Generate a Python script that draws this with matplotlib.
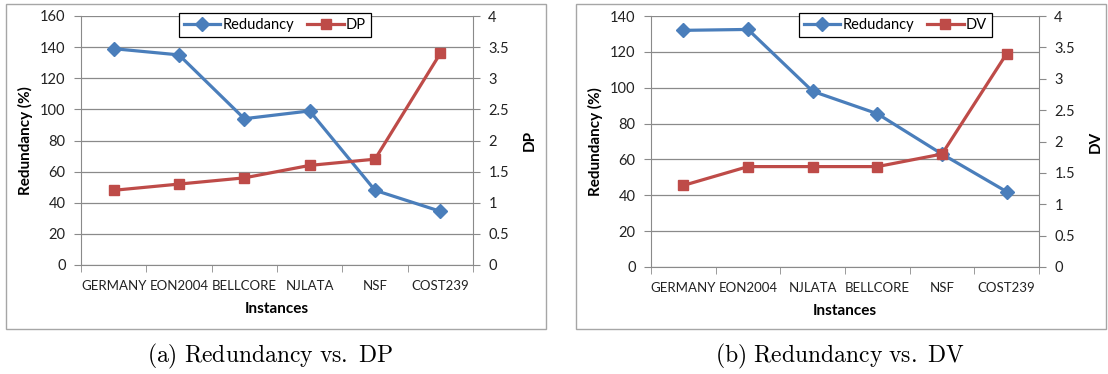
import matplotlib.pyplot as plt
from matplotlib.patches import Rectangle

# Chart data
instances_a = ["GERMANY", "EON2004", "BELLCORE", "NJLATA", "NSF", "COST239"]
redundancy_a = [139, 135, 94, 99, 48, 34.5]
dp_a = [1.2, 1.3, 1.4, 1.6, 1.7, 3.4]

instances_b = ["GERMANY", "EON2004", "NJLATA", "BELLCORE", "NSF", "COST239"]
redundancy_b = [132, 132.5, 98, 85.5, 63, 42]
dv_b = [1.3, 1.6, 1.6, 1.6, 1.8, 3.4]

BLUE = "#4A7EBB"
RED = "#BE4B48"
GRID = "#8a8a8a"
FONT = "Lato"
W, H = 1108, 374

plt.rcParams["font.family"] = [FONT, "DejaVu Sans"]
plt.rcParams["mathtext.fontset"] = "cm"


def px_rect(x0, y0, x1, y1):
    # pixel box (top-left origin) -> figure fraction rect
    return [x0 / W, 1 - y1 / H, (x1 - x0) / W, (y1 - y0) / H]


def panel(fig, rect, names, red_vals, other_vals, other_name, ymax, leg_x):
    ax = fig.add_axes(rect)
    x = list(range(len(names)))
    ax.plot(x, red_vals, color=BLUE, lw=2.3, marker="D", ms=7,
            label="Redudancy", zorder=3, clip_on=False)
    ax.set_xlim(-0.5, len(names) - 0.5)
    ax.set_ylim(0, ymax)
    ax.set_yticks(range(0, ymax + 1, 20))
    ax.yaxis.grid(True, color=GRID, lw=0.9)
    ax.set_axisbelow(True)
    ax.set_xticks(x)
    ax.set_xticklabels(names, fontsize=9.5, color="#222222")
    ax.tick_params(axis="x", length=0, pad=11)
    ax.set_xticks([i - 0.5 for i in range(len(names) + 1)], minor=True)
    ax.tick_params(axis="x", which="minor", length=5, color=GRID)
    ax.tick_params(axis="y", length=5, color=GRID, labelsize=10.5,
                   labelcolor="#222222", pad=6)
    for s in ["top", "right"]:
        ax.spines[s].set_visible(False)
    for s in ["left", "bottom"]:
        ax.spines[s].set_color(GRID)
    ax.set_ylabel("Redundancy (%)", fontsize=11, fontweight="bold",
                  labelpad=5)
    ax.set_xlabel("Instances", fontsize=11, fontweight="bold", labelpad=7)

    ax2 = ax.twinx()
    ax2.plot(x, other_vals, color=RED, lw=2.3, marker="s", ms=7.5,
             label=other_name, zorder=3, clip_on=False)
    ax2.set_ylim(0, 4)
    ax2.set_yticks([0, 0.5, 1, 1.5, 2, 2.5, 3, 3.5, 4])
    ax2.set_yticklabels(["0", "0.5", "1", "1.5", "2", "2.5", "3", "3.5", "4"])
    ax2.tick_params(axis="y", length=5, color=GRID, labelsize=10.5,
                    labelcolor="#222222", pad=6)
    for s in ["top", "left", "bottom"]:
        ax2.spines[s].set_visible(False)
    ax2.spines["right"].set_color(GRID)
    ax2.set_ylabel(other_name, fontsize=11, fontweight="bold", labelpad=10)

    h1, l1 = ax.get_legend_handles_labels()
    h2, l2 = ax2.get_legend_handles_labels()
    leg = ax2.legend(h1 + h2, l1 + l2, loc="upper center",
                     bbox_to_anchor=(leg_x, 1.012), ncol=2, fontsize=10.5,
                     fancybox=False, edgecolor="black", framealpha=1,
                     handlelength=2.5, columnspacing=0.9, borderpad=0.35,
                     handletextpad=0.15, borderaxespad=0)
    leg.get_frame().set_linewidth(0.9)
    return ax


fig = plt.figure(figsize=(W / 100, H / 100), dpi=100)

# outer chart frames
for x0, x1 in [(6, 546), (576, 1106)]:
    r = px_rect(x0, 4, x1, 329)
    fig.patches.append(Rectangle((r[0], r[1]), r[2], r[3],
                                 transform=fig.transFigure, fill=False,
                                 edgecolor="#a6a6a6", lw=1.0))

panel(fig, px_rect(81, 16, 473, 265),
      instances_a, redundancy_a, dp_a, "DP", 160, 0.495)
panel(fig, px_rect(651, 16, 1039, 267),
      instances_b, redundancy_b, dv_b, "DV", 140, 0.63)

fig.text(270 / W, 1 - 356 / H, r"$\mathrm{(a)\ Redundancy\ vs.\ DP}$",
         ha="center", va="center", fontsize=17)
fig.text(840 / W, 1 - 356 / H, r"$\mathrm{(b)\ Redundancy\ vs.\ DV}$",
         ha="center", va="center", fontsize=17)

fig.savefig("out.png", dpi=100)
